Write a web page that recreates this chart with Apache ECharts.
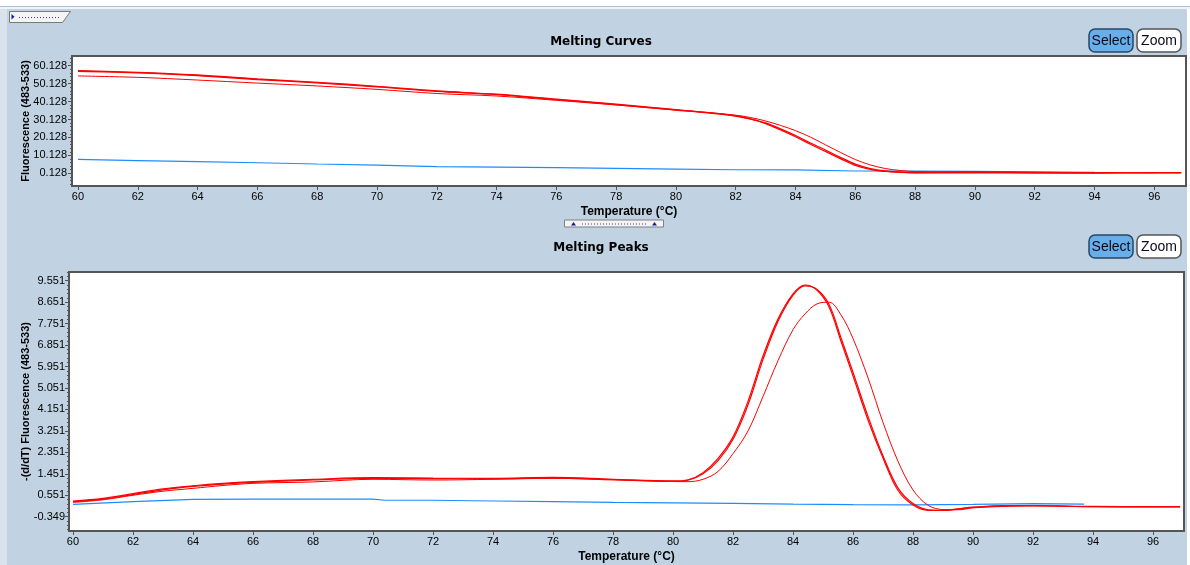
<!DOCTYPE html>
<html><head><meta charset="utf-8">
<script src="https://cdn.jsdelivr.net/npm/echarts@6/dist/echarts.min.js"></script>
<style>html,body{margin:0;padding:0;background:#fff}#c{width:1190px;height:565px}</style>
</head><body><div id="c"></div>
<script>
// ---------- Melting Curves (top) ----------
const mcTemps = [60,62,64,66,68,70,72,74,76,78,80,81,82,82.5,83,83.5,84,84.5,85,85.5,86,86.5,87,87.5,88,90,92,94,96,96.9];
const mcRedA1 = [57.3,56.4,54.9,52.7,50.8,48.6,46.0,44.2,41.4,38.6,35.6,34.1,32.2,30.4,27.8,24.3,20.5,16.3,12.3,8.3,4.5,2.3,1.2,0.6,0.4,0.4,0.3,0.3,0.4,0.4];
const mcRedA2 = [57.0,56.1,54.6,52.4,50.5,48.3,45.8,44.0,41.2,38.4,35.4,33.9,32.0,30.3,28.2,24.9,21.2,17.0,13.1,9.0,5.2,2.7,1.4,0.8,0.5,0.8,0.6,0.4,0.5,0.5];
const mcRedB  = [54.4,53.6,52.1,50.4,48.8,46.9,44.6,43.2,40.8,38.2,35.4,34.1,32.5,31.2,29.3,26.8,23.9,20.3,16.0,11.8,7.8,4.8,2.8,1.7,1.1,0.9,0.6,0.5,0.5,0.5];
const mcBlueTemps = [60,62,64,66,68,70,72,74,76,78,80,82,84,86,88,90,92,94,96];
const mcBlue      = [7.9,7.2,6.6,6.0,5.3,4.7,3.8,3.6,3.3,2.9,2.5,2.1,2.0,1.4,1.3,1.2,0.9,0.6,0.5];
const mcYTicks = [0.128,10.128,20.128,30.128,40.128,50.128,60.128];

// ---------- Melting Peaks (bottom) ----------
const mpTemps = [60,61,62,63,64,65,66,68,70,72,74,76,78,80,80.5,81,81.5,82,82.5,83,83.5,84,84.4,84.8,85.2,85.6,86,86.5,87,87.5,88,88.5,89,89.5,90,91,92,94,96,96.9];
const mpRedA1 = [0.31,0.42,0.62,0.82,0.95,1.05,1.12,1.22,1.29,1.27,1.26,1.30,1.22,1.15,1.2,1.5,2.1,3.0,4.5,6.4,7.95,9.0,9.37,9.15,8.45,7.0,5.55,3.7,2.1,0.75,0.14,-0.08,-0.08,-0.02,0.05,0.12,0.12,0.08,0.07,0.07];
const mpRedA2 = [0.28,0.39,0.58,0.78,0.92,1.02,1.09,1.19,1.26,1.25,1.24,1.27,1.20,1.13,1.18,1.45,2.0,2.9,4.35,6.25,7.85,8.95,9.33,9.18,8.55,7.15,5.7,3.85,2.2,0.85,0.2,-0.06,-0.09,-0.03,0.04,0.1,0.11,0.07,0.06,0.06];
const mpRedB  = [0.25,0.36,0.55,0.72,0.84,0.96,1.05,1.11,1.22,1.19,1.22,1.26,1.20,1.13,1.12,1.22,1.55,2.3,3.25,4.7,6.2,7.5,8.16,8.58,8.65,8.11,7.12,5.47,3.6,1.97,0.77,0.13,-0.05,-0.06,0.02,0.08,0.1,0.07,0.07,0.07];
const mpBlueTemps = [60,62,64,66,68,70,70.4,72,74,76,78,80,82,84,86,88,90,92,93.7];
const mpBlue      = [0.17,0.28,0.38,0.39,0.39,0.39,0.34,0.34,0.31,0.28,0.25,0.23,0.21,0.18,0.16,0.15,0.17,0.20,0.18];
const mpYTicks = [-0.349,0.551,1.451,2.351,3.251,4.151,5.051,5.951,6.851,7.751,8.651,9.551];

const xTicks = [60,62,64,66,68,70,72,74,76,78,80,82,84,86,88,90,92,94,96];

// ---------- build ----------
const FONT = 'Liberation Sans';
const RED = '#ff0000', BLUE = '#1e8cff', FRAME = '#555555';
const zip = (xs, ys) => xs.map((x, i) => [x, ys[i]]);
function minorValues(majors, step, sub, lo, hi) {
  const out = [];
  const base = majors[0];
  for (let k = -40; k <= 400; k++) {
    const v = base + k * step / sub;
    if (v < lo || v > hi) continue;
    if (k % sub === 0) continue;
    out.push(+v.toFixed(4));
  }
  return out;
}

const chart = echarts.init(document.getElementById('c'));
const gridTop = {left: 72, top: 56, width: 1114, height: 130};
const gridBot = {left: 69, top: 272, width: 1115, height: 259};
const mcYMin = -6.95, mcYMax = 65.5, mpYMin = -0.949, mpYMax = 9.916;

function xAxis(gi, min, max, gap) {
  return {
    gridIndex: gi, type: 'value', min: min, max: max,
    axisLine: {show: true, onZero: false, lineStyle: {color: FRAME, width: 2}},
    axisTick: {show: true, customValues: xTicks, length: 4, lineStyle: {color: FRAME}},
    axisLabel: {customValues: xTicks, fontSize: 11, fontFamily: FONT, color: '#000', margin: 5},
    splitLine: {show: false},
    name: 'Temperature (°C)', nameLocation: 'middle', nameGap: gap, nameMoveOverlap: false,
    nameTextStyle: {fontSize: 12, fontWeight: 'bold', fontFamily: FONT, color: '#000'}
  };
}
function yAxisMajor(gi, min, max, ticks, name, gap, margin) {
  return {
    gridIndex: gi, type: 'value', min: min, max: max, position: 'left',
    axisLine: {show: true, onZero: false, lineStyle: {color: FRAME, width: 2}},
    axisTick: {show: true, customValues: ticks, length: 4, lineStyle: {color: FRAME}},
    axisLabel: {customValues: ticks, formatter: v => Number(v).toFixed(3), fontSize: 11, fontFamily: FONT, color: '#000', margin: margin},
    splitLine: {show: false},
    name: name, nameLocation: 'middle', nameGap: gap, nameRotate: 90, nameMoveOverlap: false,
    nameTextStyle: {fontSize: 11, fontWeight: 'bold', fontFamily: FONT, color: '#000'}
  };
}
function yAxisMinor(gi, min, max, vals) {
  return {
    gridIndex: gi, type: 'value', min: min, max: max, position: 'left', offset: 0,
    axisLine: {show: false, onZero: false},
    axisTick: {show: true, customValues: vals, length: 2, lineStyle: {color: FRAME}},
    axisLabel: {show: false}, splitLine: {show: false}
  };
}
function line(data, xi, yi, color, w, smooth) {
  return {type: 'line', xAxisIndex: xi, yAxisIndex: yi, data: data, symbol: 'none',
    smooth: smooth, lineStyle: {color: color, width: w}, silent: true};
}

function button(x, y, label, fill, stroke) {
  return {type: 'group', children: [
    {type: 'rect', shape: {x: x, y: y, width: 44, height: 23, r: 6}, style: {fill: fill, stroke: stroke, lineWidth: 1.5}},
    {type: 'text', style: {text: label, x: x + 22, y: y + 12, align: 'center', verticalAlign: 'middle',
      textAlign: 'center', textVerticalAlign: 'middle', font: '14px "Liberation Sans"', fill: '#0a0a1a'}}
  ]};
}

const graphics = [
  {type: 'rect', shape: {x: 0, y: 0, width: 1190, height: 6}, style: {fill: '#ffffff'}, z: -10},
  {type: 'rect', shape: {x: 0, y: 6, width: 1190, height: 1.2}, style: {fill: '#a9c1d8'}, z: -10},
  {type: 'rect', shape: {x: 0, y: 7.2, width: 1190, height: 1.6}, style: {fill: '#ffffff'}, z: -10},
  {type: 'rect', shape: {x: 0, y: 9, width: 7, height: 556}, style: {fill: '#d8e3ee'}, z: -10},
  {type: 'rect', shape: {x: 1187, y: 9, width: 3, height: 556}, style: {fill: '#ffffff'}, z: -10},
  // top-left tab
  {type: 'polygon', shape: {points: [[9.5, 11.5], [70.5, 11.5], [62.5, 22.5], [9.5, 22.5]]}, style: {fill: '#f4f4f4', stroke: '#7a7a7a', lineWidth: 1}},
  {type: 'polygon', shape: {points: [[11.5, 14], [14.5, 16.8], [11.5, 19.6]]}, style: {fill: '#1a1a8a'}},
  {type: 'line', shape: {x1: 19, y1: 17.5, x2: 60, y2: 17.5}, style: {stroke: '#3a3aa0', lineWidth: 1, lineDash: [1, 2]}},
  // titles
  {type: 'text', style: {text: 'Melting Curves', x: 601, y: 42, align: 'center', verticalAlign: 'middle', textAlign: 'center', textVerticalAlign: 'middle', font: 'bold 12px "DejaVu Sans"', fill: '#000'}},
  {type: 'text', style: {text: 'Melting Peaks', x: 601, y: 248, align: 'center', verticalAlign: 'middle', textAlign: 'center', textVerticalAlign: 'middle', font: 'bold 12px "DejaVu Sans"', fill: '#000'}},
  // buttons
  button(1089, 29, 'Select', '#68aee8', '#27476a'),
  button(1137, 29, 'Zoom', '#ffffff', '#555555'),
  button(1089, 235, 'Select', '#68aee8', '#27476a'),
  button(1137, 235, 'Zoom', '#ffffff', '#555555'),
  // splitter
  {type: 'rect', shape: {x: 564.5, y: 220, width: 99, height: 7}, style: {fill: '#f4f4f4', stroke: '#808080', lineWidth: 1}},
  {type: 'polygon', shape: {points: [[571, 225.5], [573.5, 222], [576, 225.5]]}, style: {fill: '#1a1a8a'}},
  {type: 'polygon', shape: {points: [[652, 225.5], [654.5, 222], [657, 225.5]]}, style: {fill: '#1a1a8a'}},
  {type: 'line', shape: {x1: 582, y1: 224, x2: 648, y2: 224}, style: {stroke: '#3a3aa0', lineWidth: 1, lineDash: [1, 2]}}
];

const gridBase = {show: true, backgroundColor: '#ffffff', borderColor: FRAME, borderWidth: 2, containLabel: false, outerBoundsMode: 'none'};
chart.setOption({
  animation: false,
  backgroundColor: '#c1d3e3',
  grid: [Object.assign({}, gridBase, gridTop), Object.assign({}, gridBase, gridBot)],
  xAxis: [xAxis(0, 59.8, 97.06, 20), xAxis(1, 59.867, 97.03, 20)],
  yAxis: [
    yAxisMajor(0, mcYMin, mcYMax, mcYTicks, 'Fluorescence (483-533)', 41, 5),
    yAxisMinor(0, mcYMin, mcYMax, minorValues(mcYTicks, 10, 5, mcYMin, mcYMax)),
    yAxisMajor(1, mpYMin, mpYMax, mpYTicks, '-(d/dT) Fluorescence (483-533)', 38, 4),
    yAxisMinor(1, mpYMin, mpYMax, minorValues(mpYTicks, 0.9, 5, mpYMin, mpYMax))
  ],
  series: [
    line(zip(mcBlueTemps, mcBlue), 0, 0, BLUE, 1.2, false),
    line(zip(mcTemps, mcRedB), 0, 0, RED, 1, 0.35),
    line(zip(mcTemps, mcRedA2), 0, 0, RED, 1.3, 0.35),
    line(zip(mcTemps, mcRedA1), 0, 0, RED, 1.3, 0.35),
    line(zip(mpBlueTemps, mpBlue), 1, 2, BLUE, 1.2, false),
    line(zip(mpTemps, mpRedB), 1, 2, RED, 1, 0.35),
    line(zip(mpTemps, mpRedA2), 1, 2, RED, 1.2, 0.35),
    line(zip(mpTemps, mpRedA1), 1, 2, RED, 1.2, 0.35)
  ],
  graphic: graphics
});
</script>
</body></html>
